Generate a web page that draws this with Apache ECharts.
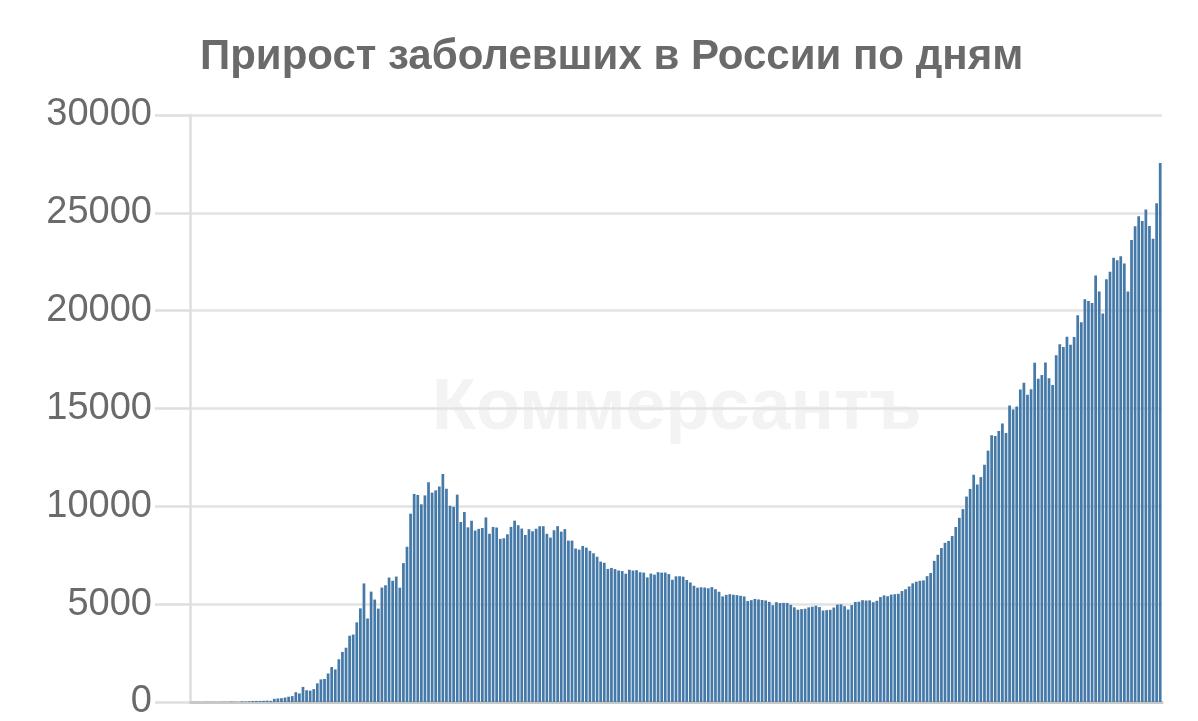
<!DOCTYPE html>
<html>
<head>
<meta charset="utf-8">
<script src="https://cdn.jsdelivr.net/npm/echarts@6/dist/echarts.min.js"></script>
<style>
html,body{margin:0;padding:0;background:#fff;}
#chart{width:1198px;height:721px;}
</style>
</head>
<body>
<div id="chart"></div>
<script>
// Daily new cases, Russia, 2 March – 27 November
const startDate = '2020-03-02';
const mar = [1,0,0,1,6,4,3,0,3,8,6,17,14,4,30,21,33,52,54,53,61,71,57,163,182,196,228,270,302,500];
const apr = [440,771,601,582,658,954,1154,1175,1459,1786,1667,2186,2558,2774,3388,3448,4070,4785,6060,4268,5642,5236,4774,5849,5966,6361,6198,6411,5841,7099];
const may = [7933,9623,10633,10581,10102,10559,11231,10699,10817,11012,11656,10899,10028,9974,10598,9200,9709,8926,9263,8764,8849,8894,9434,8599,8946,8915,8338,8371,8572,8952,9268];
const jun = [9035,8863,8536,8831,8726,8855,8984,8985,8595,8404,8779,8987,8706,8835,8246,8248,7843,7790,7972,7889,7728,7600,7425,7176,7113,6800,6852,6791,6719,6693];
const jul = [6556,6760,6718,6736,6632,6611,6368,6562,6509,6635,6611,6615,6537,6248,6422,6428,6406,6234,6109,5940,5842,5862,5848,5811,5871,5765,5635,5395,5475,5509,5482];
const aug = [5462,5427,5394,5159,5204,5267,5241,5212,5189,5118,4945,5102,5057,5065,5061,4969,4839,4718,4748,4767,4838,4870,4921,4852,4676,4696,4711,4829,4980,4993,4897];
const sep = [4729,4952,5110,5125,5205,5185,5195,5099,5172,5363,5449,5406,5488,5509,5529,5670,5762,5905,6065,6148,6196,6215,6431,6595,7212,7523,7867,8135,8232,8481];
const oct = [8945,9412,9859,10499,10888,11615,11115,11493,12126,12846,13634,13600,13850,14231,13750,15150,14950,15100,15970,16319,15700,15980,17340,16520,16710,17347,16550,16202,17717,18283,18140];
const nov = [18665,18257,18648,19768,19404,20582,20498,20396,21798,20977,19851,21608,21983,22702,22572,22778,22410,20985,23610,24318,24822,24581,25173,24326,23675,25487,27543];

const yTicks = [0,5000,10000,15000,20000,25000,30000];
const titleText = 'Прирост заболевших в России по дням';
const watermarkText = 'Коммерсантъ';

const values = [].concat(mar, apr, may, jun, jul, aug, sep, oct, nov);
const categories = [];
{
  const d = new Date(startDate + 'T00:00:00Z');
  for (let i = 0; i < values.length; i++) {
    categories.push(d.toISOString().slice(0,10));
    d.setUTCDate(d.getUTCDate() + 1);
  }
}

const chart = echarts.init(document.getElementById('chart'), null, {renderer:'canvas'});
const font = "'Liberation Sans', Arial, Helvetica, sans-serif";
chart.setOption({
  animation: false,
  backgroundColor: '#ffffff',
  title: {
    text: titleText,
    left: 195,
    top: 31,
    textStyle: {fontFamily: font, fontSize: 42, fontWeight: 'bold', color: '#6a6a6a'}
  },
  graphic: [{
    type: 'text',
    left: 432,
    top: 373,
    z: -10,
    silent: true,
    style: {text: watermarkText, font: "bold 72px 'Liberation Sans', Arial, sans-serif", fill: '#f3f3f3'}
  }],
  grid: {left: 190, right: 36, top: 115, bottom: 16, containLabel: false},
  xAxis: {
    type: 'category',
    data: categories,
    axisLine: {show: true, lineStyle: {color: '#c8c8c8', width: 3}},
    axisTick: {show: false},
    axisLabel: {show: false},
    splitLine: {show: false}
  },
  yAxis: {
    type: 'value',
    min: yTicks[0],
    max: yTicks[yTicks.length-1],
    interval: yTicks[1]-yTicks[0],
    axisLine: {show: true, lineStyle: {color: '#dedede', width: 2.5}},
    axisTick: {show: true, length: 35, lineStyle: {color: '#dedede', width: 2.5}},
    axisLabel: {margin: 38, fontFamily: font, fontSize: 38, color: '#6a6a6a', formatter: function (v) { return String(v); }},
    splitLine: {show: true, lineStyle: {color: '#e3e3e3', width: 2.5}}
  },
  series: [{
    type: 'bar',
    data: values,
    barCategoryGap: '24%',
    itemStyle: {color: '#4579a8', borderWidth: 0},
    silent: true
  }]
});
</script>
</body>
</html>
